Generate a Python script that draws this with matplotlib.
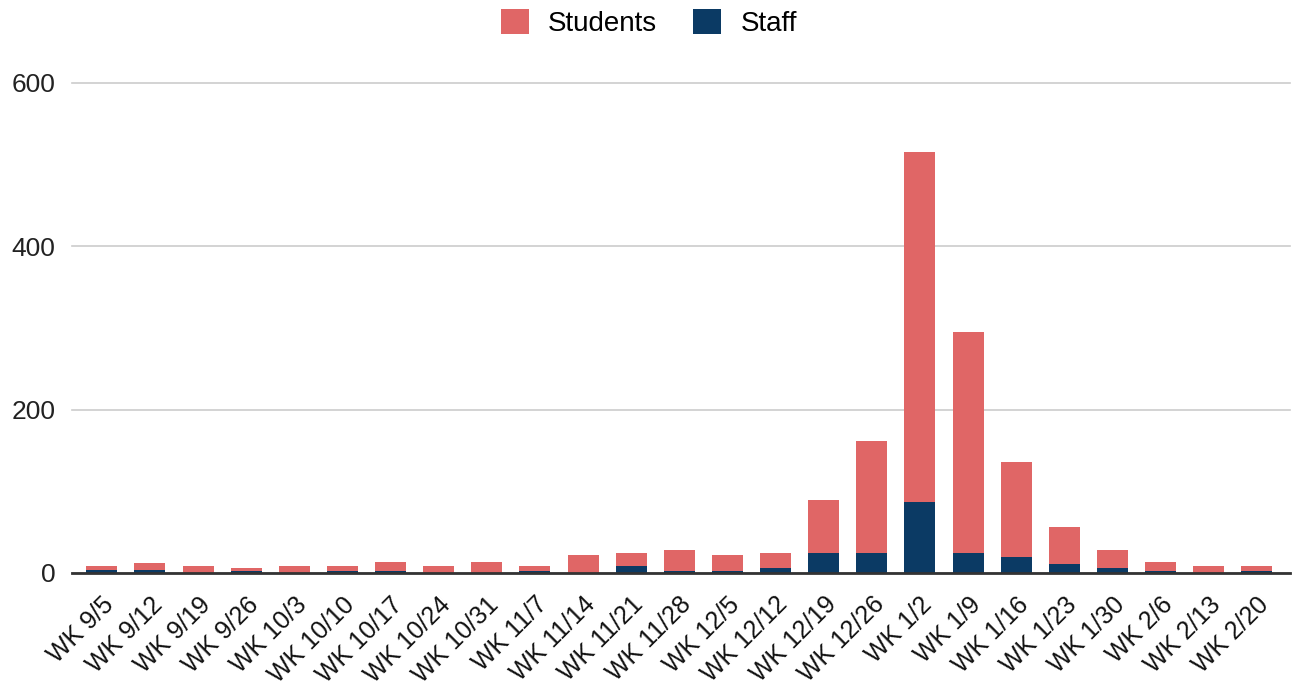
import matplotlib
matplotlib.use("Agg")
import matplotlib.pyplot as plt
import numpy as np

weeks = ["WK 9/5", "WK 9/12", "WK 9/19", "WK 9/26", "WK 10/3", "WK 10/10", "WK 10/17",
         "WK 10/24", "WK 10/31", "WK 11/7", "WK 11/14", "WK 11/21", "WK 11/28", "WK 12/5",
         "WK 12/12", "WK 12/19", "WK 12/26", "WK 1/2", "WK 1/9", "WK 1/16", "WK 1/23",
         "WK 1/30", "WK 2/6", "WK 2/13", "WK 2/20"]
staff = [4, 4, 0, 3, 0, 3, 3, 0, 0, 3, 0, 9, 3, 3, 6, 25, 25, 87, 25, 20, 11, 6, 3, 0, 3]
totals = [9, 12, 9, 6, 9, 9, 14, 9, 14, 9, 22, 25, 28, 22, 25, 89, 162, 515, 295, 136, 56, 28, 14, 9, 9]
students = [t - s for t, s in zip(totals, staff)]
yticks = [0, 200, 400, 600]

plt.rcParams['font.family'] = ['Liberation Sans', 'DejaVu Sans']

fig = plt.figure(figsize=(12.98, 6.90), dpi=100)
ax = fig.add_axes([72/1298, 1-573/690, (1290-72)/1298, (573-83)/690])

x = np.arange(len(weeks))
w = 0.645
ax.bar(x, staff, width=w, color='#0b3a64', label='Staff', zorder=3)
ax.bar(x, students, width=w, bottom=staff, color='#e06666', label='Students', zorder=3)

ax.set_ylim(0, 600)
ax.set_xlim(-0.62, len(weeks) - 1 + 0.69)
ax.set_yticks(yticks)
ax.set_yticklabels([str(v) for v in yticks], fontsize=19, color='#222222')
ax.yaxis.grid(True, color='#cccccc', linewidth=1.2, zorder=0)
for s in ['top', 'right', 'left']:
    ax.spines[s].set_visible(False)
ax.spines['bottom'].set_color('#333333')
ax.spines['bottom'].set_linewidth(2)
ax.spines['bottom'].set_zorder(4)
ax.tick_params(axis='y', length=0, pad=12)
ax.tick_params(axis='x', length=0, pad=14)
ax.set_xticks(x)
ax.set_xticklabels(weeks, rotation=45, ha='right', rotation_mode='anchor', fontsize=18, color='#111111')
for line in ax.get_ygridlines():
    line.set_clip_on(False)

handles, labels = ax.get_legend_handles_labels()
fig.legend(handles[::-1], labels[::-1], loc='center', bbox_to_anchor=(0.5, 0.966), ncol=2,
           frameon=False, fontsize=20, handlelength=1.0, handleheight=1.0,
           columnspacing=1.3, handletextpad=0.7)

fig.savefig('out.png', dpi=100)
